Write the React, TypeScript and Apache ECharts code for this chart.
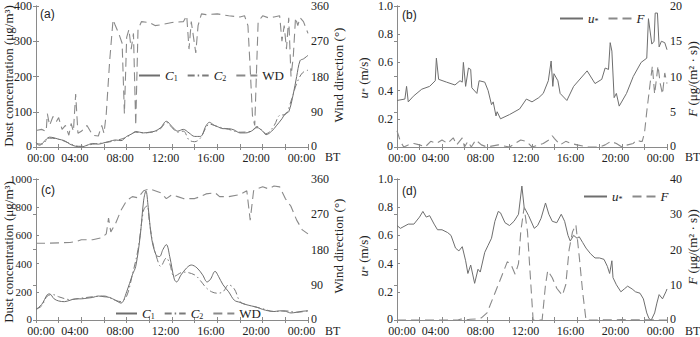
import React, { useEffect, useRef } from "react";
import * as echarts from "echarts";

// ---------- Data (hours of day, values) ----------
// Panel (a)
const aC1Hours = [0,0.3,0.7,1.2,1.6,2,2.5,3,3.5,4,4.5,5,5.5,6,6.5,7,7.5,8,8.5,8.8,9.5,10,10.5,11,11.5,12,12.5,13,13.5,14,14.5,15,15.3,15.7,16,16.5,17,17.5,18,18.5,19,19.5,20,20.3,20.8,21.2,21.7,22,22.3,22.7,23,23.3,23.6,24];
const aC1Vals = [12,5,15,28,26,22,18,8,2,0,5,10,8,12,16,20,18,30,38,44,40,42,45,55,73,58,45,50,40,30,30,60,70,62,58,52,52,48,40,40,45,55,45,35,45,60,80,95,100,150,200,245,250,260];
const aC2Hours = [0,0.5,1.2,2,3,3.5,4,5,6,7,8,8.8,9.5,10.5,11,11.5,12,12.5,13,13.5,14,14.5,15,15.3,16,17,18,19,19.5,20,20.3,21,21.5,22,22.5,23,23.5,24];
const aC2Vals = [10,8,25,22,10,3,2,8,12,18,28,42,40,44,52,70,55,42,45,20,15,25,55,65,58,50,42,45,58,45,38,60,90,92,130,180,210,218];
const aWDHours = [0,0.5,0.9,1.0,1.2,1.5,1.8,2.0,2.3,2.6,2.9,3.1,3.3,3.5,3.7,4.0,4.5,5.0,5.5,5.8,6.0,6.2,6.5,6.8,7.0,7.3,7.6,7.8,8.0,8.2,8.4,8.6,8.8,9.0,9.3,10,10.5,11,12,13,13.3,13.5,13.7,13.9,14.1,14.3,14.6,15,16,17,18,18.4,18.7,18.9,19.1,19.3,19.6,20,20.5,21,21.5,21.7,21.9,22.1,22.3,22.5,22.7,22.9,23.1,23.3,23.6,24];
const aWDVals = [42,45,40,85,55,78,65,75,45,55,30,60,40,135,35,40,55,30,28,55,35,85,220,325,310,290,265,85,280,300,250,290,55,300,320,318,310,312,318,320,335,250,320,280,240,310,340,338,340,335,332,335,310,200,80,55,320,335,330,332,335,270,310,250,330,180,230,330,310,330,320,290];

// Panel (b)
const bUHours = [0,0.7,0.85,1.0,1.45,2.2,2.9,3.4,3.5,3.7,4.4,5.15,5.6,5.8,5.9,6.1,6.35,6.55,6.65,7.1,7.3,7.8,8.1,8.4,8.55,8.8,8.9,9.2,10.0,10.9,11.5,12.0,12.6,13.0,13.45,13.7,13.85,13.95,14.3,14.5,15.1,15.7,16.9,17.6,18.2,18.5,18.8,18.95,19.1,19.3,19.5,19.75,20.4,21.0,21.7,22.2,22.35,22.65,22.85,22.95,23.15,23.3,23.5,23.8,24];
const bUVals = [0.33,0.34,0.43,0.32,0.36,0.41,0.43,0.47,0.63,0.48,0.46,0.44,0.47,0.46,0.60,0.43,0.56,0.55,0.42,0.38,0.47,0.46,0.40,0.30,0.32,0.22,0.25,0.20,0.23,0.27,0.34,0.32,0.35,0.38,0.47,0.61,0.43,0.52,0.47,0.38,0.33,0.43,0.54,0.45,0.48,0.56,0.55,0.74,0.68,0.35,0.38,0.29,0.38,0.50,0.60,0.63,0.91,0.73,0.75,0.95,0.95,0.71,0.75,0.74,0.69];
const bFHours = [0,0.3,0.6,1,1.5,2,2.5,3,3.5,4,4.5,5,5.3,5.8,6,6.3,6.6,7,7.5,8,9,10,10.5,11,11.5,12,13,13.5,13.8,14,14.5,15,15.5,16,17,18,18.5,19,19.5,20,20.5,21,21.3,21.6,21.8,22,22.2,22.5,22.7,22.9,23.2,23.4,23.6,23.8,24];
const bFVals = [2.3,0.8,0,0.3,0.5,0.3,0,0.8,0.5,1.0,0.5,1.3,0.3,1.3,0,0.8,0,1.0,0.3,0,0.3,0,0.5,1.0,0.8,0,0.5,1.0,1.6,1.2,0.3,0.8,0.5,0.3,0,0,0.3,0.8,0.5,0,0.3,0.5,1.0,0.8,0.8,2.0,5.0,9.0,11.5,7.5,11.5,9,7.5,10.5,9];

// Panel (c)
const cC1Hours = [0,0.5,1.0,1.2,1.6,2.0,2.5,3.0,3.5,4.0,4.5,5.0,5.5,6.0,6.5,7.0,7.5,8.0,8.5,8.8,9.2,9.5,9.7,9.9,10.2,10.6,10.9,11.2,11.5,11.8,12.2,12.4,12.8,13.3,13.7,14.2,14.7,15.1,15.4,15.8,16.1,16.5,17,17.5,18,18.5,19,19.5,20,20.5,21,21.5,22,22.5,23,23.5,24];
const cC1Vals = [75,110,180,185,150,135,130,140,150,150,155,160,170,165,160,140,120,200,320,380,600,850,915,800,580,460,450,500,535,450,290,270,320,370,390,370,320,270,290,345,310,250,200,140,125,110,100,90,75,65,60,65,62,50,55,62,65];
const cC2Hours = [0,0.5,1,1.5,2,3,4,5,6,7,7.5,8,8.5,9,9.5,9.8,10.0,10.3,10.7,11.0,11.5,11.8,12.2,13,14,14.5,15,15.5,16,16.5,17,17.5,18,18.5,19,20,21,22,23,24];
const cC2Vals = [75,100,170,180,165,145,155,165,170,140,130,170,320,500,780,810,700,550,430,380,440,400,310,340,320,280,230,200,190,200,250,220,130,110,100,80,60,65,55,65];
const cWDHours = [0,1,2,3,3.5,4,5,5.8,6.2,6.4,6.6,7,7.5,8,8.5,9,9.5,10,10.5,11,11.5,12,12.5,13,14,14.5,15,15.8,16.2,17,18,18.6,18.9,19.2,19.5,20,20.5,21,21.5,22,22.5,23,23.5,24];
const cWDVals = [196,196,197,198,200,205,205,210,220,260,225,245,280,305,315,312,330,335,330,325,310,320,315,310,310,315,322,325,315,315,320,330,255,330,335,340,335,342,340,310,290,255,230,220];

// Panel (d)
const dUHours = [0,0.3,1,1.5,2,2.3,2.6,2.9,3.3,3.6,4.0,4.5,4.8,5.2,5.5,5.8,6.1,6.3,6.55,6.9,7.2,7.4,7.8,8.1,8.4,8.7,9.0,9.2,9.6,10.0,10.4,10.8,11.1,11.3,11.7,12.2,12.5,12.8,13.2,13.5,13.8,14.2,14.6,14.9,15.2,15.4,15.7,16.0,16.2,16.5,16.8,17.2,17.6,18.0,18.4,18.7,18.9,19.1,19.2,19.5,19.9,20.2,20.5,20.9,21.2,21.6,21.9,22.2,22.4,22.6,22.9,23.1,23.3,23.6,23.9,24];
const dUVals = [0.67,0.65,0.68,0.68,0.73,0.77,0.73,0.74,0.68,0.64,0.64,0.62,0.60,0.51,0.49,0.52,0.42,0.33,0.39,0.26,0.36,0.34,0.48,0.53,0.58,0.70,0.77,0.76,0.69,0.67,0.70,0.75,0.95,0.80,0.74,0.65,0.67,0.72,0.83,0.75,0.70,0.69,0.75,0.70,0.60,0.56,0.60,0.58,0.59,0.55,0.51,0.47,0.44,0.44,0.43,0.38,0.33,0.42,0.30,0.25,0.20,0.22,0.24,0.22,0.20,0.19,0.15,0.05,0.01,0.0,0.05,0.12,0.18,0.15,0.20,0.22];
const dFHours = [0,5.4,5.7,6.0,6.5,7.0,7.5,8.0,8.5,9.0,9.5,9.8,10.1,10.5,10.8,11.0,11.3,11.6,11.9,12.1,12.5,12.9,13.2,13.4,13.8,14.2,14.7,15.0,15.3,15.6,15.9,16.2,16.5,16.8,17.5,20,24];
const dFVals = [0,0,0.3,0,0.2,0.3,0.6,2,6,10,14,16.5,16,13,16,25,32,25,10,0,0,0,10,14,12,9,7,10,20,25,27,18,8,0,0,0.1,0];

// Axis ticks
const timeTicks = [0, 4, 8, 12, 16, 20, 24];
const concTicksA = [0, 100, 200, 300, 400];
const concTicksC = [0, 200, 400, 600, 800, 1000];
const wdTicks = [0, 90, 180, 270, 360];
const uTicks = [0, 0.2, 0.4, 0.6, 0.8, 1.0];
const fTicksB = [0, 5, 10, 15, 20];
const fTicksD = [0, 10, 20, 30, 40];

const SERIF = '"Liberation Serif", "Times New Roman", serif';
const TXT = "#222";
const AXC = "#8a8a8a";

const zip = (h: number[], v: number[]) => h.map((x, i) => [x, v[i]]);

const legendText: Record<string, string> = {
  aC1: "{i|C}{s|1}", aC2: "{i|C}{s|2}", aWD: "WD",
  cC1: "{i|C}{s|1}", cC2: "{i|C}{s|2}", cWD: "WD",
  bU: "{i|u}{s|*}", bF: "{i|F}",
  dU: "{i|u}{s|*}", dF: "{i|F}",
};

const richStyles = {
  i: { fontStyle: "italic", fontFamily: SERIF, fontSize: 13, color: TXT },
  s: { fontFamily: SERIF, fontSize: 8, color: TXT, padding: [6, 0, 0, 0] },
};

function timeLabel(v: number) {
  if (!timeTicks.includes(v)) return "";
  const t = String(v % 24).padStart(2, "0") + ":00";
  return v === 0 ? `{f|${t}}` : `{n|${t}}`;
}

function xAxesFor(grid: number) {
  const ax = {
    type: "value", gridIndex: grid, min: 0, max: 24, interval: 2,
    axisLine: { show: true, lineStyle: { color: AXC, width: 1 } },
    axisTick: { show: true, inside: true, length: 3, lineStyle: { color: AXC } },
    splitLine: { show: false },
  };
  return [
    { ...ax, position: "bottom",
      axisLabel: { formatter: timeLabel, margin: 6, fontFamily: SERIF, fontSize: 12, color: TXT, lineHeight: 10,
        rich: {
          f: { fontFamily: SERIF, fontSize: 12, color: TXT, lineHeight: 10, padding: [0, 0, 0, 10] },
          n: { fontFamily: SERIF, fontSize: 12, color: TXT, lineHeight: 10, padding: [0, 13, 0, 0] },
        } } },
    { ...ax, position: "top", axisLabel: { show: false } },
  ];
}

function yAxisFor(grid: number, pos: string, ticks: number[], fmt?: (v: number) => string, size = 12) {
  const step = ticks[1] - ticks[0];
  const base = fmt ?? ((v: number) => String(v));
  return {
    type: "value", gridIndex: grid, position: pos,
    min: ticks[0], max: ticks[ticks.length - 1], interval: step,
    axisLine: { show: true, lineStyle: { color: AXC, width: 1 } },
    axisTick: { show: true, inside: true, length: 3, lineStyle: { color: AXC } },
    splitLine: { show: false },
    axisLabel: { margin: pos === "left" ? 4 : 3, fontFamily: SERIF, fontSize: size, color: TXT, lineHeight: 10,
      formatter: (v: number) => (v === ticks[0] ? `{z|${base(v)}}` : base(v)),
      rich: { z: { fontFamily: SERIF, fontSize: size, color: TXT, lineHeight: 10, padding: [0, 0, 3, 0] } } },
  };
}

const uFmt = (v: number) => (v === 0 ? "0" : v.toFixed(1));

function lineSeries(name: string, xi: number, yi: number, h: number[], v: number[], style: any, smooth: any = false) {
  return {
    type: "line", name, xAxisIndex: xi, yAxisIndex: yi,
    data: zip(h, v), symbol: "none", showSymbol: false, smooth,
    lineStyle: style, itemStyle: { color: style.color },
    animation: false, silent: true,
  };
}

const SOLID = { color: "#6e6e6e", width: 1, type: "solid" };
const DASHDOT = { color: "#7a7a7a", width: 1, type: [7, 3, 1.5, 3] };
const DASH = { color: "#8a8a8a", width: 1.1, type: [9, 5] };

function legendFor(names: string[], left: number, top: number, width: number) {
  return {
    data: names, left, top, orient: "horizontal", padding: 0,
    itemWidth: width, itemHeight: 10, itemGap: 9,
    itemStyle: { opacity: 0, borderWidth: 0 },
    textStyle: { fontFamily: SERIF, fontSize: 13, color: TXT, rich: richStyles },
    formatter: (n: string) => legendText[n] ?? n,
    selectedMode: false,
  };
}

function vText(x: number, y: number, text: string) {
  return {
    type: "text", x, y, rotation: Math.PI / 2, silent: true,
    style: {
      text, fill: TXT, font: `13px ${SERIF}`, align: "center", verticalAlign: "middle",
      rich: {
        i: { fontStyle: "italic", fontFamily: SERIF, fontSize: 13, fill: TXT },
        s: { fontFamily: SERIF, fontSize: 8, fill: TXT, padding: [5, 0, 0, 0] },
      },
    },
  };
}

function hText(x: number, y: number, text: string, font: string) {
  return {
    type: "text", x, y, silent: true,
    style: { text, fill: TXT, font, align: "left", verticalAlign: "middle" },
  };
}

export default function App() {
  const ref = useRef<HTMLDivElement>(null);
  useEffect(() => {
    if (!ref.current) return;
    const chart = echarts.init(ref.current, undefined, { renderer: "svg" });
    const option: any = {
      animation: false,
      backgroundColor: "#ffffff",
      grid: [
        { left: 36, top: 4, width: 272, height: 143 },
        { left: 397, top: 4, width: 270, height: 143 },
        { left: 36, top: 179, width: 272, height: 143 },
        { left: 397, top: 179, width: 270, height: 143 },
      ],
      xAxis: [...xAxesFor(0), ...xAxesFor(1), ...xAxesFor(2), ...xAxesFor(3)],
      yAxis: [
        yAxisFor(0, "left", concTicksA), yAxisFor(0, "right", wdTicks),
        yAxisFor(1, "left", uTicks, uFmt), yAxisFor(1, "right", fTicksB),
        yAxisFor(2, "left", concTicksC, undefined, 11), yAxisFor(2, "right", wdTicks),
        yAxisFor(3, "left", uTicks, uFmt), yAxisFor(3, "right", fTicksD),
      ],
      legend: [
        legendFor(["aC1", "aC2", "aWD"], 138, 69, 21),
        legendFor(["bU", "bF"], 559, 12, 23),
        legendFor(["cC1", "cC2", "cWD"], 115, 307, 21),
        legendFor(["dU", "dF"], 583, 190, 23),
      ],
      series: [
        lineSeries("aC1", 0, 0, aC1Hours, aC1Vals, SOLID, 0.35),
        lineSeries("aC2", 0, 0, aC2Hours, aC2Vals, DASHDOT, 0.35),
        lineSeries("aWD", 0, 1, aWDHours, aWDVals, DASH),
        lineSeries("bU", 2, 2, bUHours, bUVals, SOLID),
        lineSeries("bF", 2, 3, bFHours, bFVals, DASH),
        lineSeries("cC1", 4, 4, cC1Hours, cC1Vals, SOLID, 0.35),
        lineSeries("cC2", 4, 4, cC2Hours, cC2Vals, DASHDOT, 0.35),
        lineSeries("cWD", 4, 5, cWDHours, cWDVals, DASH),
        lineSeries("dU", 6, 6, dUHours, dUVals, SOLID),
        lineSeries("dF", 6, 7, dFHours, dFVals, DASH),
      ],
      graphic: [
        vText(8, 76, "Dust concentration (μg/m³)"),
        vText(338, 75, "Wind direction (°)"),
        vText(363, 78, "{i|u}{s|*} (m/s)"),
        vText(692, 79, "{i|F} (μg/(m² · s))"),
        vText(8, 252, "Dust concentration (μg/m³)"),
        vText(338, 246, "Wind direction (°)"),
        vText(363, 256, "{i|u}{s|*} (m/s)"),
        vText(692, 247, "{i|F} (μg/(m² · s))"),
        hText(40, 14, "(a)", `12px "Liberation Sans", sans-serif`),
        hText(402, 15, "(b)", `12px "Liberation Sans", sans-serif`),
        hText(41, 190, "(c)", `12px "Liberation Sans", sans-serif`),
        hText(402, 191, "(d)", `12px "Liberation Sans", sans-serif`),
        hText(325, 157, "BT", `12px ${SERIF}`),
        hText(685, 157, "BT", `12px ${SERIF}`),
        hText(325, 331, "BT", `12px ${SERIF}`),
        hText(685, 331, "BT", `12px ${SERIF}`),
      ],
    };
    chart.setOption(option);
    return () => chart.dispose();
  }, []);
  return <div ref={ref} style={{ width: 700, height: 337, position: "absolute", left: 0, top: 0 }} />;
}
